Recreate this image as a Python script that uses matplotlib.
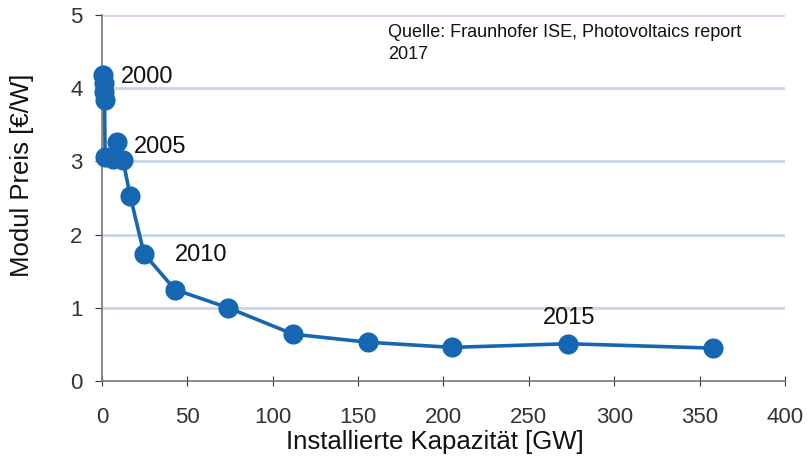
import matplotlib
matplotlib.use("Agg")
import matplotlib.pyplot as plt

# Data
capacity_gw = [0.8, 1.0, 1.2, 1.5, 1.8, 6.4, 8.8, 12.3, 16.5, 24.6, 42.7, 74, 112, 156, 205, 273, 358]
price_eur_w = [4.18, 4.07, 3.95, 3.84, 3.06, 3.04, 3.26, 3.02, 2.53, 1.74, 1.25, 1.0, 0.64, 0.53, 0.46, 0.51, 0.45]
year_labels = ["2000", "2005", "2010", "2015"]
year_label_pos = [(11, 4.15), (18.5, 3.2), (42.5, 1.72), (258, 0.86)]
x_ticks = [0, 50, 100, 150, 200, 250, 300, 350, 400]
y_ticks = [0, 1, 2, 3, 4, 5]

plt.rcParams['font.family'] = ['Liberation Sans', 'DejaVu Sans']

fig = plt.figure(figsize=(8.07, 4.58), dpi=100)
ax = fig.add_axes([0.1264, 0.168, 0.9727 - 0.1264, 0.967 - 0.168])

color = '#1766b1'
ax.plot(capacity_gw, price_eur_w, color=color, lw=2.6, marker='o', ms=14.5,
        markeredgewidth=0, zorder=3, clip_on=False)

for lab, (x, y) in zip(year_labels, year_label_pos):
    ax.text(x, y, lab, fontsize=17, ha='left', va='center', color='#111111')

ax.text(0.419, 0.975, "Quelle: Fraunhofer ISE, Photovoltaics report\n2017",
        transform=ax.transAxes, fontsize=13, ha='left', va='top',
        color='#111111', linespacing=1.35)

ax.set_xlim(0, 400)
ax.set_ylim(0, 5)
ax.set_xticks(x_ticks)
ax.set_yticks(y_ticks)
ax.tick_params(axis='both', labelsize=16, colors='#333333')
ax.tick_params(axis='x', direction='inout', length=7, pad=15)
ax.tick_params(axis='y', direction='out', length=5, pad=9)

for y in y_ticks[1:]:
    ax.axhline(y, color='#c9d6ea', lw=2, zorder=1)

for s in ['top', 'right']:
    ax.spines[s].set_visible(False)
for s in ['left', 'bottom']:
    ax.spines[s].set_color('#777777')
    ax.spines[s].set_linewidth(1.2)

ax.set_xlabel("Installierte Kapazität [GW]", fontsize=18.5, color='#111111')
ax.set_ylabel("Modul Preis [€/W]", fontsize=18.5, color='#111111')
ax.xaxis.set_label_coords(0.487, -0.135)
ax.yaxis.set_label_coords(-0.100, 0.563)

fig.savefig("out.png", dpi=100)
